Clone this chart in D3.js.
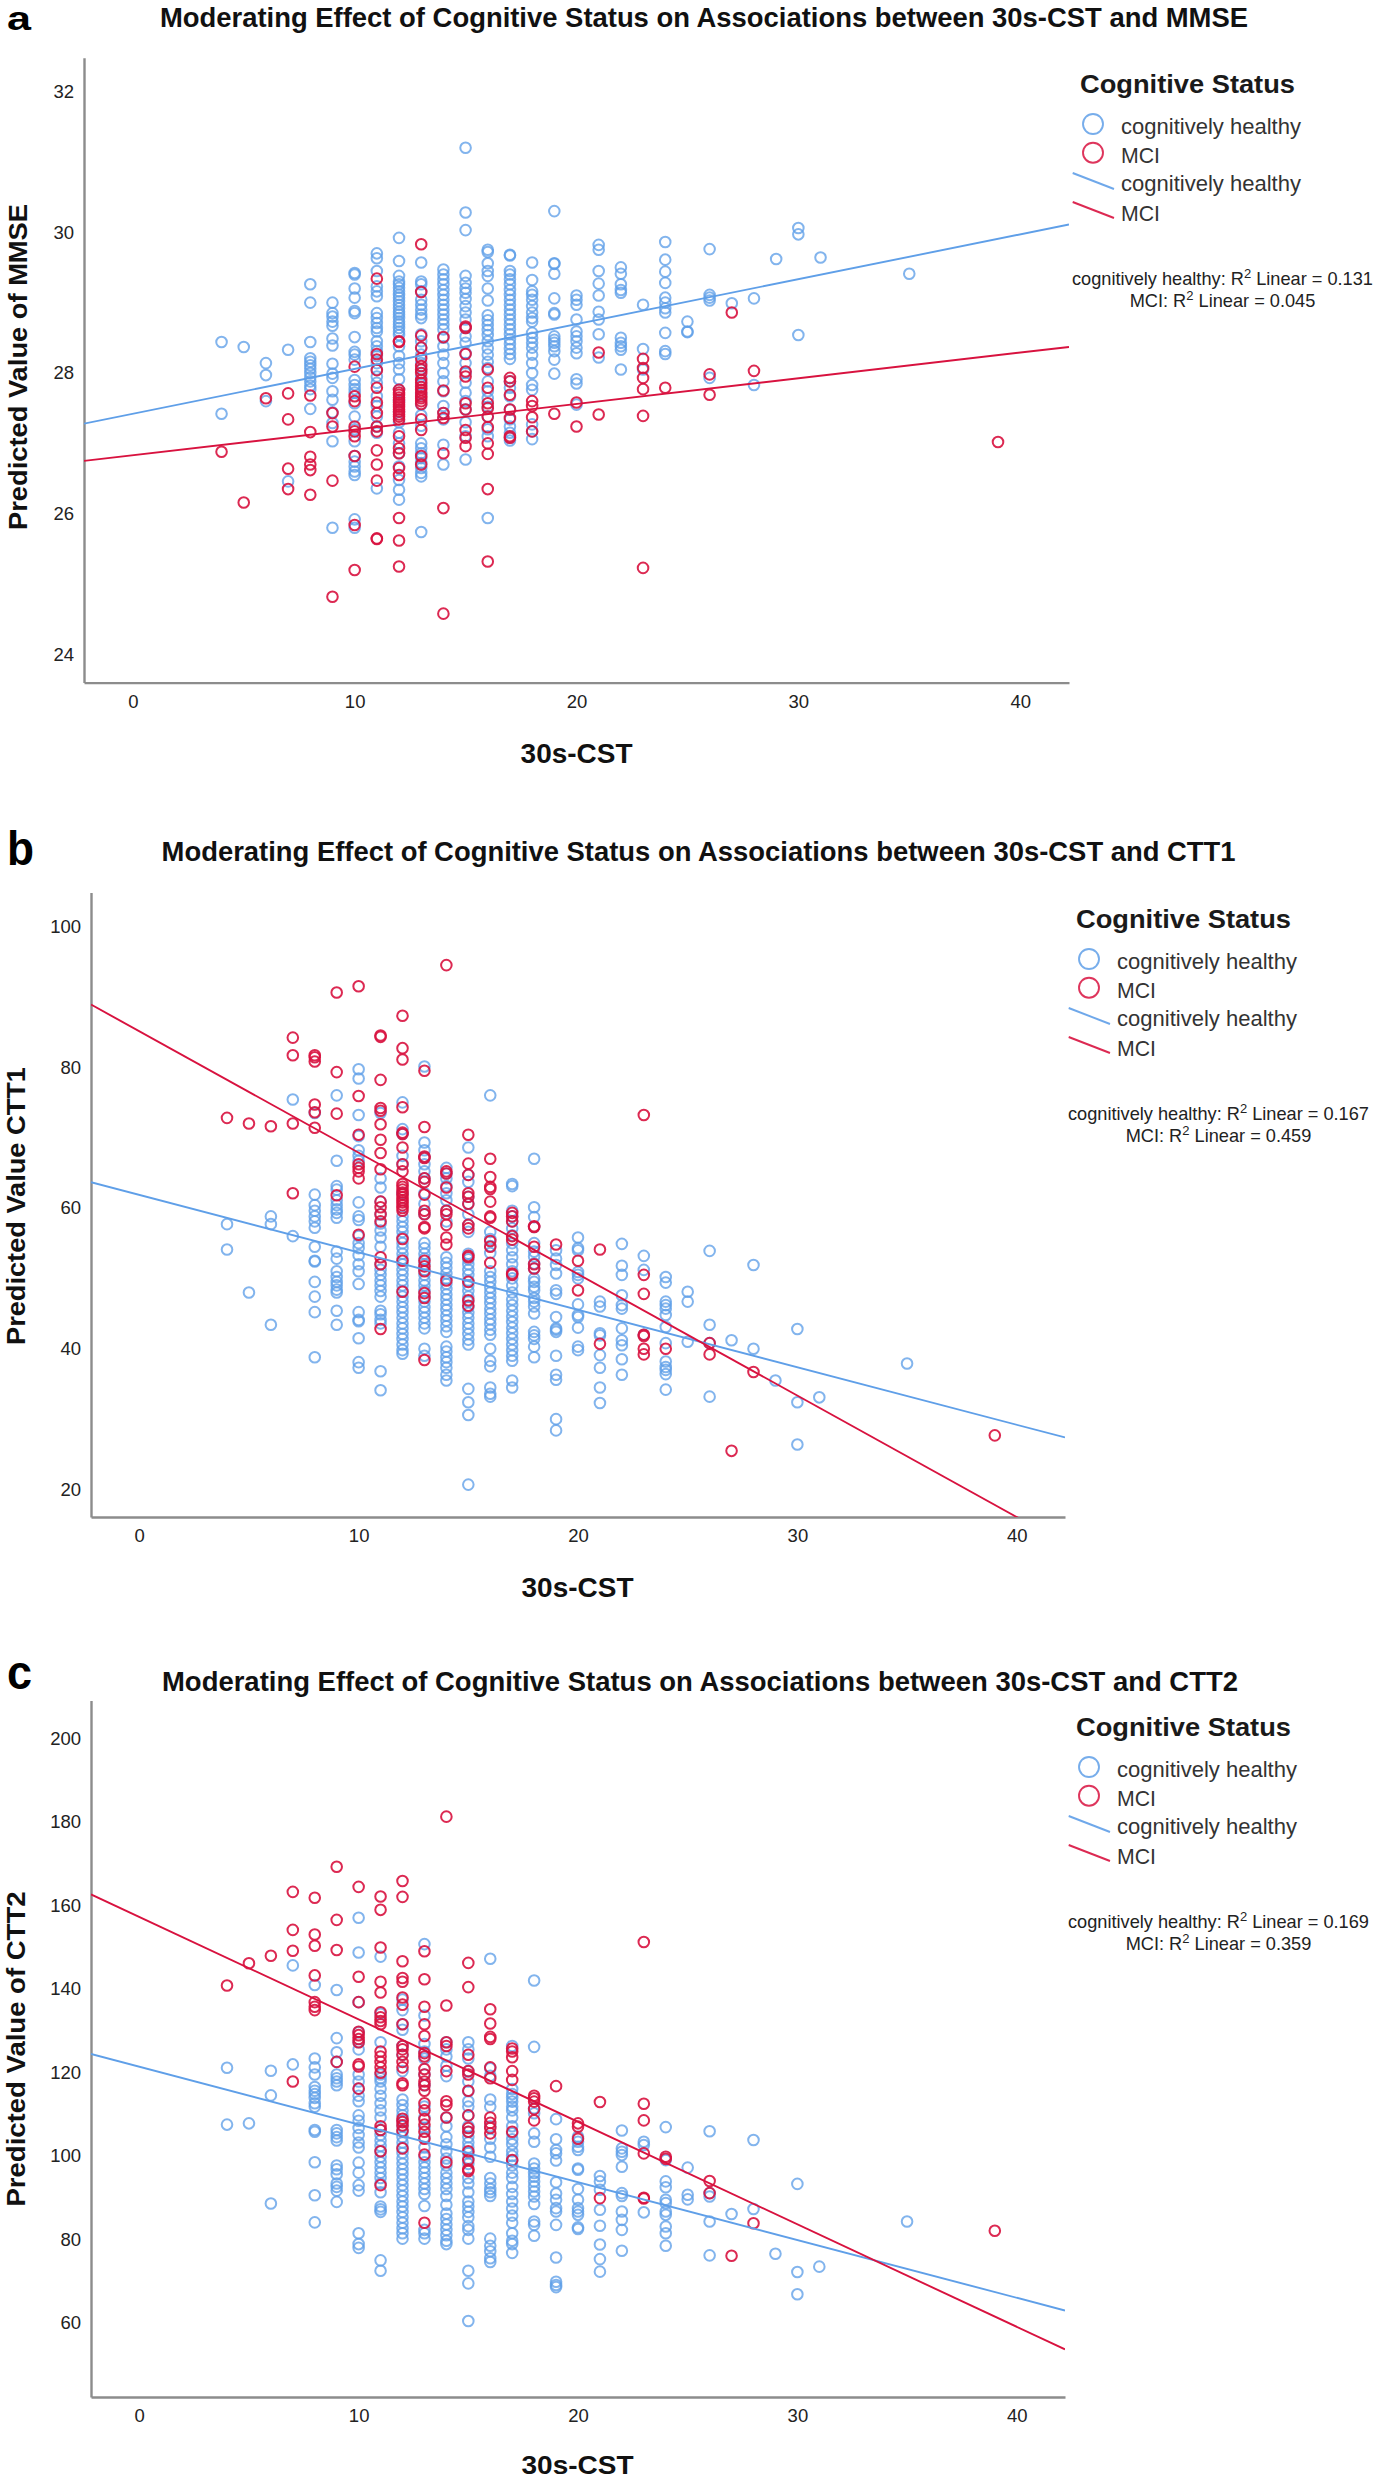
<!DOCTYPE html>
<html>
<head>
<meta charset="utf-8">
<script src="https://cdn.jsdelivr.net/npm/d3@7"></script>
<style>
  html, body { margin: 0; padding: 0; background: #fff; }
  svg text { font-family: "Liberation Sans", Arial, sans-serif; fill: #1a1a1a; }
</style>
</head>
<body>
<div id="chart"></div>
<script>
// values: each row is [30s-CST, [predicted values]]
var mmseHealthy = [
  [4, [28.44, 27.42]], [5, [28.37]], [6, [28.14, 27.97, 27.6]], [7, [28.33, 26.46]],
  [8, [29.26, 29.0, 28.44, 28.21, 28.16, 28.11, 28.06, 28.0, 27.94, 27.88, 27.82, 27.77, 27.49]],
  [9, [29.0, 28.85, 28.8, 28.73, 28.67, 28.49, 28.39, 28.13, 27.99, 27.93, 27.74, 27.62, 27.44, 27.29, 27.03, 25.8]],
  [10, [29.42, 29.4, 29.2, 29.07, 28.88, 28.85, 28.51, 28.3, 28.26, 28.19, 27.9, 27.83, 27.77, 27.72, 27.57, 27.38, 27.2, 27.03, 26.82, 26.74, 26.67, 26.6, 26.55, 25.92, 25.8]],
  [11, [29.7, 29.63, 29.45, 29.23, 29.16, 29.09, 28.85, 28.78, 28.71, 28.64, 28.59, 28.45, 28.38, 28.31, 28.24, 28.14, 28.05, 27.95, 27.86, 27.67, 27.53, 27.38, 27.24, 27.15, 26.36]],
  [12, [29.92, 29.59, 29.38, 29.3, 29.26, 29.21, 29.16, 29.11, 29.07, 29.02, 28.97, 28.92, 28.87, 28.83, 28.78, 28.73, 28.69, 28.64, 28.59, 28.54, 28.38, 28.24, 28.14, 28.05, 27.91, 27.76, 27.6, 27.45, 27.3, 27.15, 27.0, 26.86, 26.67, 26.48, 26.34, 26.2]],
  [13, [29.57, 29.3, 29.26, 29.16, 29.04, 28.97, 28.9, 28.83, 28.78, 28.55, 28.45, 28.36, 28.26, 28.14, 28.05, 27.95, 27.84, 27.7, 27.55, 27.4, 27.25, 27.0, 26.93, 26.86, 26.79, 26.72, 26.65, 26.58, 26.53, 25.74]],
  [14, [29.47, 29.4, 29.33, 29.26, 29.18, 29.11, 29.04, 28.97, 28.9, 28.83, 28.76, 28.69, 28.62, 28.5, 28.38, 28.26, 28.14, 28.0, 27.88, 27.74, 27.53, 27.43, 27.34, 26.98, 26.7]],
  [15, [31.2, 30.28, 30.03, 29.38, 29.28, 29.2, 29.14, 29.05, 28.95, 28.86, 28.76, 28.64, 28.52, 28.43, 28.28, 28.14, 28.0, 27.86, 27.72, 27.6, 27.48, 27.3, 27.1, 26.77]],
  [16, [29.75, 29.72, 29.56, 29.45, 29.38, 29.2, 29.03, 28.82, 28.75, 28.68, 28.61, 28.54, 28.45, 28.35, 28.26, 28.16, 28.07, 27.88, 27.74, 27.64, 27.52, 27.38, 27.2, 27.1, 25.94]],
  [17, [29.68, 29.67, 29.45, 29.4, 29.33, 29.26, 29.18, 29.11, 29.04, 28.97, 28.9, 28.83, 28.76, 28.69, 28.62, 28.55, 28.48, 28.41, 28.34, 28.27, 28.2, 27.88, 27.79, 27.67, 27.48, 27.34, 27.24, 27.15, 27.08, 27.04]],
  [18, [29.57, 29.32, 29.16, 29.11, 29.04, 28.95, 28.86, 28.78, 28.73, 28.57, 28.5, 28.43, 28.36, 28.26, 28.14, 28.0, 27.83, 27.76, 27.27, 27.17, 27.06]],
  [19, [30.3, 29.56, 29.55, 29.41, 29.06, 28.85, 28.83, 28.52, 28.47, 28.43, 28.38, 28.31, 28.19, 27.99]],
  [20, [29.1, 29.04, 28.97, 28.76, 28.59, 28.52, 28.45, 28.36, 28.28, 27.91, 27.85, 27.55]],
  [21, [29.82, 29.75, 29.45, 29.27, 29.1, 28.87, 28.76, 28.55, 28.22]],
  [22, [29.5, 29.41, 29.26, 29.18, 29.14, 28.5, 28.43, 28.38, 28.33, 28.05]],
  [23, [28.97, 28.34, 28.05]],
  [24, [29.86, 29.61, 29.44, 29.28, 29.07, 29.0, 28.92, 28.86, 28.57, 28.31, 28.27]],
  [25, [28.73, 28.59, 28.58]], [26, [29.76, 29.11, 29.07, 29.03, 27.93]], [27, [28.99]], [28, [29.06, 27.83]],
  [29, [29.62]], [30, [30.06, 29.97, 28.54]], [31, [29.64]], [35, [29.41]]
];
var mmseMci = [
  [4, [26.88]], [5, [26.16]], [6, [27.64]], [7, [27.71, 27.34, 26.64, 26.35]],
  [8, [27.68, 27.16, 26.81, 26.7, 26.62, 26.27]], [9, [27.43, 27.24, 26.47, 24.82]],
  [10, [28.09, 27.67, 27.6, 27.24, 27.17, 27.1, 26.82, 25.84, 25.2]],
  [11, [29.34, 28.27, 28.19, 28.04, 27.79, 27.58, 27.43, 27.24, 27.17, 26.9, 26.7, 26.47, 25.65, 25.64]],
  [12, [28.45, 28.44, 27.76, 27.72, 27.69, 27.65, 27.62, 27.58, 27.55, 27.52, 27.48, 27.45, 27.41, 27.38, 27.34, 27.1, 26.93, 26.86, 26.65, 26.55, 25.94, 25.62, 25.25]],
  [13, [29.83, 29.15, 28.53, 28.36, 28.21, 28.1, 28.05, 28.0, 27.9, 27.86, 27.8, 27.76, 27.72, 27.67, 27.64, 27.6, 27.56, 27.34, 27.19, 26.82, 26.7]],
  [14, [28.51, 27.75, 27.43, 27.36, 26.86, 26.08, 24.58]],
  [15, [28.66, 28.64, 28.27, 28.02, 27.95, 27.57, 27.48, 27.19, 27.08, 26.96]],
  [16, [28.05, 27.79, 27.57, 27.5, 27.38, 27.23, 27.0, 26.85, 26.35, 25.32]],
  [17, [27.93, 27.88, 27.69, 27.48, 27.36, 27.1, 27.08]],
  [18, [27.6, 27.53, 27.37, 27.17]], [19, [27.42]], [20, [27.58, 27.24]], [21, [28.29, 27.41]],
  [23, [28.2, 28.07, 27.93, 27.77, 27.39, 25.23]], [24, [27.79]], [26, [27.98, 27.69]],
  [27, [28.86]], [28, [28.03]], [39, [27.02]]
];

var ctt1Healthy = [
  [4, [57.7, 54.1]], [5, [48.0]], [6, [58.8, 57.7, 43.4]], [7, [75.4, 56.0]],
  [8, [73.5, 61.9, 60.4, 59.6, 58.8, 58.1, 57.2, 54.5, 52.5, 52.4, 49.5, 47.4, 45.2, 38.8]],
  [9, [76, 66.7, 63.1, 62.6, 61.1, 60.4, 59.8, 59.3, 58.6, 53.8, 52.8, 51, 50.2, 49.5, 49, 48.4, 48, 45.4, 43.4]],
  [10, [79.7, 78.4, 73.2, 70.2, 68.2, 67.4, 66.7, 60.8, 58.8, 58.3, 56, 55, 54.3, 53.3, 52, 51, 49.2, 45.2, 44.1, 43.9, 41.5, 38.1, 37.3]],
  [11, [73.5, 64.2, 62.9, 60.9, 59.1, 57.8, 56.8, 55.8, 54.5, 52, 51.2, 50.5, 49.7, 49, 48.2, 47.4, 45.4, 44.9, 44.1, 43.6, 36.8, 34.1]],
  [12, [75, 71.2, 70.5, 67.4, 66.2, 62.1, 58.8, 58.1, 57.3, 56.6, 55.8, 55, 54.3, 53.5, 52.8, 52, 51.2, 50.5, 49.7, 49, 48.2, 47.4, 46.7, 45.9, 45.2, 44.4, 43.6, 42.9, 42.1, 41.4, 40.6, 39.8, 39.3]],
  [13, [80.1, 69.3, 68.2, 67.2, 66.2, 65.2, 64.2, 62.1, 60.6, 59.1, 55, 54.3, 53.5, 52.8, 52, 51.2, 50.5, 49.7, 49, 48.2, 47.4, 46.7, 45.9, 45.2, 44.4, 43.6, 42.9, 40, 39]],
  [14, [65.7, 64.9, 64.2, 63.1, 62.1, 61.1, 59.6, 58.1, 53, 52.2, 51.5, 50.7, 50, 49.2, 48.5, 47.7, 47, 46.2, 45.5, 44.7, 44, 43.2, 42.4, 40.3, 39.6, 38.8, 38.1, 37.3, 36.3, 35.5]],
  [15, [68.6, 64.7, 63.7, 61.6, 60.6, 59.1, 57.6, 56.6, 53.5, 52.7, 52, 51.2, 50.5, 49.7, 49, 48.2, 47.4, 46.7, 45.9, 45.1, 44.4, 43.6, 42.9, 42.1, 41.3, 40.6, 34.3, 32.4, 30.6, 20.7]],
  [16, [76, 56.6, 55.6, 54.6, 53.6, 51, 50.2, 49.5, 48.7, 48, 47.2, 46.5, 45.7, 45, 44.2, 43.5, 42.7, 42, 40, 38.3, 37.5, 34.5, 33.6, 33.2]],
  [17, [63.4, 63.1, 59.6, 58.8, 58.1, 57.1, 56.1, 55, 54, 53, 52, 51, 50, 49, 48, 47, 46.2, 45.4, 44.6, 43.8, 43, 42.2, 41.4, 40.6, 39.8, 39, 38.3, 35.5, 34.5]],
  [18, [67, 60.1, 58.7, 57.3, 55, 53.8, 53.1, 52.1, 51.4, 50, 49.5, 48.8, 48.3, 47.2, 46.7, 46, 45, 42.4, 41.9, 41.4, 40.3, 38.8]],
  [19, [54, 52.8, 51.9, 50.7, 48.3, 47.8, 44.5, 42.9, 42.7, 42.4, 39, 36.3, 35.6, 30, 28.4]],
  [20, [55.8, 54.3, 54, 50.9, 50.5, 50, 46.3, 44.8, 44.5, 43, 40.3, 39.8]],
  [21, [46.7, 46, 42.2, 41.9, 39.1, 37.3, 34.5, 32.3]],
  [22, [54.9, 51.8, 50.5, 47.6, 46.2, 45.7, 42.9, 41.2, 40.5, 38.5, 36.3]],
  [23, [53.2, 51.2, 42]],
  [24, [50.2, 49.4, 46.7, 46.2, 45.7, 44.8, 43.1, 40.8, 38.2, 37.4, 37, 36.4, 34.2]],
  [25, [48.1, 46.7, 41]], [26, [53.9, 43.4, 40.8, 33.2]], [27, [41.2]], [28, [51.9, 40]], [29, [35.5]],
  [30, [42.8, 32.4, 26.4]], [31, [33.1]], [35, [37.9]]
];
var ctt1Mci = [
  [4, [72.8]], [5, [72]], [6, [71.6]], [7, [84.2, 81.7, 72, 62.1]],
  [8, [81.7, 81.4, 80.8, 74.7, 73.6, 71.4]], [9, [90.6, 79.3, 73.4, 61.8]],
  [10, [91.5, 75.9, 70.4, 66.2, 65.7, 65.2, 64.2, 56.2]],
  [11, [84.5, 84.3, 78.2, 74.2, 73.8, 71.9, 69.7, 67.8, 65.5, 60.9, 60.1, 59.1, 58.1, 53, 52, 42.8]],
  [12, [87.3, 82.7, 81.1, 74.3, 70.7, 70.5, 68.6, 66.2, 65.2, 63.4, 63, 62.6, 62.2, 61.9, 61.5, 61.1, 60.8, 60.4, 60, 59.6, 55.6, 52.5, 48.1]],
  [13, [79.5, 71.5, 67.3, 67.1, 64.2, 63.7, 61.9, 59.6, 59.1, 57.3, 57.1, 52.5, 51.7, 51, 47.9, 47.2, 38.4]],
  [14, [94.5, 65.2, 64.9, 62.9, 59.6, 59.1, 57.6, 55.8, 54.8, 49.7]],
  [15, [70.4, 66.3, 64.7, 62.1, 61.6, 60.6, 57.6, 57.1, 53.2, 53, 49.5, 46.9, 46.1]],
  [16, [67, 64.4, 63, 62.7, 60.9, 58.8, 58.6, 55.3, 54.5, 52.2]],
  [17, [59.3, 58.8, 58.1, 56, 55.5, 50.7, 50.5]],
  [18, [57.4, 57.3, 54.5, 52, 51.4]], [19, [54.8]], [20, [52.5, 48.3]], [21, [54.1, 40.7]],
  [23, [73.2, 50.5, 47.8, 42, 41.8, 40, 39.2]], [24, [40]], [26, [40.8, 39.2]],
  [27, [25.5]], [28, [36.7]], [39, [27.7]]
];

var ctt2Healthy = [
  [4, [121.1, 107.5]], [5, [107.8]], [6, [120.4, 114.5, 88.6]], [7, [145.6, 121.9]],
  [8, [140.9, 123.3, 121.2, 119.5, 116.5, 115.6, 114.8, 113.9, 112.6, 111.8, 106.2, 105.8, 98.5, 90.6, 84.1]],
  [9, [139.7, 128.2, 124.8, 122.5, 119.5, 118.6, 117.8, 116.9, 106.2, 105.4, 104.5, 103.7, 97.7, 96.8, 95.6, 93.4, 92.6, 91.7, 89]],
  [10, [157, 148.7, 136.8, 129.6, 127.2, 125.5, 119.5, 117.8, 116.1, 114.4, 113.1, 109.7, 108.4, 106.7, 105, 103.2, 102, 98.4, 96, 93, 91.7, 81.5, 78.9, 78]],
  [11, [147.7, 134, 127.2, 119.5, 118.6, 117.8, 116.1, 114.4, 112.6, 110.9, 109.2, 106.2, 105, 103.7, 102.4, 101.1, 99.8, 98.5, 97.2, 96, 94.7, 93.4, 91.3, 87.9, 87.2, 86.6, 75, 72.5]],
  [12, [137.4, 134.9, 131.5, 130.2, 126.3, 124.2, 120.3, 113.5, 112.2, 110.9, 109.7, 108.4, 107.1, 105.8, 104.5, 103.2, 102, 100.7, 99.4, 98.1, 96.8, 95.6, 94.3, 93, 91.7, 90.4, 89.1, 87.9, 86.6, 85.3, 84, 82.7, 81.5, 80.2]],
  [13, [150.7, 133.6, 126.8, 125, 123.3, 119.5, 116.9, 111.8, 109.2, 106.7, 104.5, 102, 99.8, 98.5, 97.2, 96, 94.7, 93.4, 92.1, 90.9, 88, 82.3, 81.5, 80.2]],
  [14, [127.2, 125.5, 123.8, 121.6, 119.1, 109.2, 107.1, 104.5, 102.8, 101.1, 99.4, 97.7, 96, 94.7, 93.4, 92.1, 90.4, 88.3, 86.2, 84.9, 83.6, 82.3, 81, 79.7, 78.9]],
  [15, [127.2, 125.5, 123.3, 120.3, 117.8, 115.5, 113.1, 111.8, 109.7, 107.1, 105.8, 104.5, 103.2, 102, 100.7, 99.4, 98.1, 94.7, 93.4, 91.3, 89.1, 87.9, 86.6, 85.3, 83.2, 82.3, 80.2, 72.5, 69.5, 60.5]],
  [16, [147.2, 121, 119.2, 113.5, 111.8, 107.1, 104.1, 102, 99.8, 94.7, 93.4, 92.1, 91.3, 90.4, 80.2, 78.5, 77.2, 75.5, 74.6]],
  [17, [126.3, 116, 114.8, 113.9, 113, 111.8, 110.9, 109.2, 107.1, 105.4, 104, 102.8, 101.1, 100, 98.9, 97.7, 96, 94.7, 92.6, 90.9, 89.1, 87.4, 85.7, 84, 81.5, 79.7, 78.9, 76.8]],
  [18, [142, 126.1, 111.4, 110.2, 105.4, 103.4, 98.2, 97, 95.9, 95, 93.9, 92.7, 91.5, 90.3, 88.5, 84.3, 83.5, 80.9]],
  [19, [108.8, 104, 101.4, 100.6, 98.9, 93.7, 91, 89.5, 87.5, 86.7, 83.5, 75.7, 69.9, 69.1, 68.6]],
  [20, [104.6, 103.4, 102.2, 101.4, 97, 96.7, 92.1, 89.5, 87.5, 86.7, 85.9, 82.9, 82.5]],
  [21, [95.2, 93.9, 91.9, 87.1, 83.3, 78.8, 75.3, 72.3]],
  [22, [106.1, 101.8, 101, 100.2, 97.4, 91.1, 90.4, 86.7, 84.7, 82.3, 77.3]],
  [23, [103.4, 102.6, 86.5]],
  [24, [106.9, 99, 93.9, 92.5, 89.5, 88.7, 86.7, 85.9, 83.1, 81.5, 78.5]],
  [25, [97.2, 90.7, 89.6]], [26, [105.9, 91.1, 90.3, 84.3, 76.2]], [27, [86.1]], [28, [103.8, 87.3]], [29, [76.6]],
  [30, [93.3, 72.2, 66.9]], [31, [73.5]], [35, [84.3]]
];
var ctt2Mci = [
  [4, [140.8]], [5, [146.1]], [6, [147.9]], [7, [163.2, 154.1, 149.1, 117.8]],
  [8, [161.8, 153, 150.3, 143.2, 136.8, 135.7, 134.9]], [9, [169.2, 156.5, 149.3, 122.5]],
  [10, [164.4, 142.9, 136.8, 129.7, 128.9, 128, 127.2, 121.9, 121.4, 116.1]],
  [11, [162.1, 158.9, 149.9, 141.7, 139.1, 134.4, 133.2, 132.3, 131.5, 125, 123.8, 122.5, 121.2, 119.9, 107.1, 106.2, 101.1, 93]],
  [12, [165.8, 162, 146.6, 142.6, 141.7, 137.9, 136.2, 131.5, 126.3, 125.5, 124.2, 122.5, 121.2, 117.4, 116.9, 108.9, 108.1, 107.3, 106, 101.8]],
  [13, [149, 142.3, 135.7, 131.5, 128.7, 124.6, 123.8, 120.8, 119.5, 117.8, 116.9, 115.6, 112.6, 110.9, 108.8, 107.5, 105.8, 104.1, 100.3, 84]],
  [14, [181.2, 136, 127.2, 126.3, 120.3, 113.1, 112.2, 109.2, 98.5]],
  [15, [146.2, 140.4, 124.2, 120.3, 119.5, 115.6, 109.7, 106.7, 105.8, 101.1, 99, 96.8, 96.4]],
  [16, [135.1, 131.7, 128.5, 128, 121.2, 118.6, 109.2, 107.9, 106.7, 105.4]],
  [17, [125.7, 125, 123.6, 120.3, 118.2, 105.8, 99]],
  [18, [114.4, 113.8, 113, 111.2, 108.5]], [19, [116.7]], [20, [107.8, 107, 104.1]], [21, [112.9, 89.9]],
  [23, [151.2, 112.5, 108.5, 100.6, 90, 89.8]], [24, [99.8, 99.3]], [26, [94, 91.1]],
  [27, [76.1]], [28, [83.9]], [39, [82.1]]
];

// fit lines, [left end, right end]
var lineX = [-2.2, 42.2];
var mmseLines = { healthy: [27.28, 30.11], mci: [26.75, 28.37] };
var ctt1Lines = { healthy: [63.65, 27.4], mci: [88.9, 12.3] };
var ctt2Lines = { healthy: [124.4, 63.0], mci: [162.6, 53.7] };

var xTicks = [0, 10, 20, 30, 40];
var mmseTicks = [24, 26, 28, 30, 32];
var ctt1Ticks = [20, 40, 60, 80, 100];
var ctt2Ticks = [60, 80, 100, 120, 140, 160, 180, 200];

var groupLabels = ["cognitively healthy", "MCI"];
var blue = "#5f9fe8", red = "#d8123f";

var panels = [
  { tag: "a", tagY: 30, tagSize: 33, tagW: 24, title: "Moderating Effect of Cognitive Status on Associations between 30s-CST and MMSE",
    titleX: 704, titleY: 17.3, titleW: 1088, yLabel: "Predicted Value of MMSE", yLabelX: 27, yLabelY: 367, yLabelW: 326,
    left: 84, right: 1069, top: 57.7, bottom: 682.6, yDomain: [23.6, 32.48], xLabelX: 576.6, xLabelDy: 71, xLabelSize: 27, legendDx: 0, legendDy: 0,
    ticks: mmseTicks, healthy: mmseHealthy, mci: mmseMci, lines: mmseLines, r2: ["0.131", "0.045"] },
  { tag: "b", tagY: 865, tagSize: 48, tagW: 27, title: "Moderating Effect of Cognitive Status on Associations between 30s-CST and CTT1",
    titleX: 698.6, titleY: 851.9, titleW: 1074, yLabel: "Predicted Value CTT1", yLabelX: 25, yLabelY: 1206, yLabelW: 278,
    left: 91, right: 1065, top: 892.6, bottom: 1517, yDomain: [16.1, 104.8], xLabelX: 577.5, xLabelDy: 71, xLabelSize: 27, legendDx: -4, legendDy: 835,
    ticks: ctt1Ticks, healthy: ctt1Healthy, mci: ctt1Mci, lines: ctt1Lines, r2: ["0.167", "0.459"] },
  { tag: "c", tagY: 1689, tagSize: 48, tagW: 25, title: "Moderating Effect of Cognitive Status on Associations between 30s-CST and CTT2",
    titleX: 700, titleY: 1681.8, titleW: 1076, yLabel: "Predicted Value of CTT2", yLabelX: 25, yLabelY: 2049, yLabelW: 315,
    left: 91, right: 1065, top: 1700.5, bottom: 2397, yDomain: [42.3, 209], xLabelX: 577.5, xLabelDy: 68.5, xLabelSize: 25.5, legendDx: -4, legendDy: 1643,
    ticks: ctt2Ticks, healthy: ctt2Healthy, mci: ctt2Mci, lines: ctt2Lines, r2: ["0.169", "0.359"] }
];

var svg = d3.select("#chart")
  .append("svg")
  .attr("width", 1376)
  .attr("height", 2480);

function flatten(rows) {
  return rows.flatMap(function(row) {
    return row[1].map(function(v) { return { x: row[0], y: v }; });
  });
}

function drawLegend(g, p) {
  var lg = g.append("g").attr("transform", `translate(${p.legendDx}, ${p.legendDy})`);

  lg.append("text").attr("x", 1080).attr("y", 93)
    .attr("textLength", 215).attr("lengthAdjust", "spacingAndGlyphs")
    .style("font-size", "26px").style("font-weight", "bold")
    .text("Cognitive Status");

  lg.selectAll("circle").data([blue, red]).enter().append("circle")
    .attr("cx", 1093)
    .attr("cy", (d, i) => 124 + i * 28.7)
    .attr("r", 10)
    .attr("fill", "none")
    .attr("stroke", d => d)
    .attr("stroke-width", 1.9)
    .attr("stroke-opacity", 0.85);

  lg.selectAll("line").data([blue, red]).enter().append("line")
    .attr("x1", 1072.7).attr("x2", 1114)
    .attr("y1", (d, i) => 173 + i * 29)
    .attr("y2", (d, i) => 189 + i * 29)
    .attr("stroke", d => d)
    .attr("stroke-width", 1.9)
    .attr("stroke-opacity", 0.9);

  var rows = [[groupLabels[0], 134], [groupLabels[1], 162.7], [groupLabels[0], 191], [groupLabels[1], 220.7]];
  rows.forEach(function(r) {
    var t = lg.append("text").attr("x", 1121).attr("y", r[1])
      .style("font-size", "21.5px").style("fill", "#333").text(r[0]);
    t.attr("textLength", r[0] === "MCI" ? 39 : 180).attr("lengthAdjust", "spacingAndGlyphs");
  });

  var notes = [[groupLabels[0] + ": R", p.r2[0], 285], [groupLabels[1] + ": R", p.r2[1], 306.5]];
  notes.forEach(function(n) {
    var t = lg.append("text").attr("x", 1222.5).attr("y", n[2])
      .attr("text-anchor", "middle")
      .style("font-size", "18.2px").style("fill", "#222");
    t.append("tspan").text(n[0]);
    t.append("tspan").attr("dy", -7).style("font-size", "13px").text("2");
    t.append("tspan").attr("dy", 7).text(" Linear = " + n[1]);
  });
}

panels.forEach(function(p) {
  var g = svg.append("g");

  var x = d3.scaleLinear().domain(lineX).range([p.left, p.right]);
  var y = d3.scaleLinear().domain(p.yDomain).range([p.bottom, p.top]);

  var xAxis = d3.axisBottom(x).tickValues(xTicks).tickSize(0).tickPadding(12).tickFormat(d3.format("d"));
  var yAxis = d3.axisLeft(y).tickValues(p.ticks).tickSize(0).tickPadding(10).tickFormat(d3.format("d"));

  var gx = g.append("g").attr("transform", `translate(0, ${p.bottom})`).call(xAxis);
  var gy = g.append("g").attr("transform", `translate(${p.left}, 0)`).call(yAxis);
  [gx, gy].forEach(function(a) {
    a.select(".domain").attr("stroke", "#8c8c8c").attr("stroke-width", 2.4);
    a.selectAll("text").style("font-size", "18.5px").style("font-family", '"Liberation Sans", Arial, sans-serif').style("fill", "#222");
  });

  // blue points sit under the red ones
  [[p.healthy, blue, 0.78], [p.mci, red, 0.9]].forEach(function(s) {
    g.append("g").selectAll("circle")
      .data(flatten(s[0]))
      .enter()
      .append("circle")
      .attr("cx", d => x(d.x))
      .attr("cy", d => y(d.y))
      .attr("r", 5.3)
      .attr("fill", "none")
      .attr("stroke", s[1])
      .attr("stroke-width", 2)
      .attr("stroke-opacity", s[2]);
  });

  var clipId = "clip-" + p.tag;
  svg.append("clipPath").attr("id", clipId).append("rect")
    .attr("x", p.left).attr("y", p.top)
    .attr("width", p.right - p.left).attr("height", p.bottom - p.top);

  [[p.lines.healthy, blue], [p.lines.mci, red]].forEach(function(s) {
    g.append("line")
      .attr("clip-path", `url(#${clipId})`)
      .attr("x1", x(lineX[0])).attr("x2", x(lineX[1]))
      .attr("y1", y(s[0][0])).attr("y2", y(s[0][1]))
      .attr("stroke", s[1])
      .attr("stroke-width", 1.9);
  });

  // titles and labels
  g.append("text").attr("x", 7).attr("y", p.tagY)
    .attr("textLength", p.tagW).attr("lengthAdjust", "spacingAndGlyphs")
    .style("font-size", p.tagSize + "px").style("font-weight", "bold").style("fill", "#000")
    .text(p.tag);

  g.append("text").attr("x", p.titleX).attr("y", p.titleY)
    .attr("dy", "0.35em").attr("text-anchor", "middle")
    .attr("textLength", p.titleW).attr("lengthAdjust", "spacingAndGlyphs")
    .style("font-size", "27px").style("font-weight", "bold").style("fill", "#111")
    .text(p.title);

  g.append("text")
    .attr("transform", `translate(${p.yLabelX}, ${p.yLabelY}) rotate(-90)`)
    .attr("text-anchor", "middle")
    .attr("textLength", p.yLabelW).attr("lengthAdjust", "spacingAndGlyphs")
    .style("font-size", "26.5px").style("font-weight", "bold").style("fill", "#111")
    .text(p.yLabel);

  g.append("text").attr("x", p.xLabelX).attr("y", p.bottom + p.xLabelDy)
    .attr("dy", "0.35em").attr("text-anchor", "middle")
    .attr("textLength", 112).attr("lengthAdjust", "spacingAndGlyphs")
    .style("font-size", p.xLabelSize + "px").style("font-weight", "bold").style("fill", "#111")
    .text("30s-CST");

  drawLegend(g, p);
});
</script>
</body>
</html>
